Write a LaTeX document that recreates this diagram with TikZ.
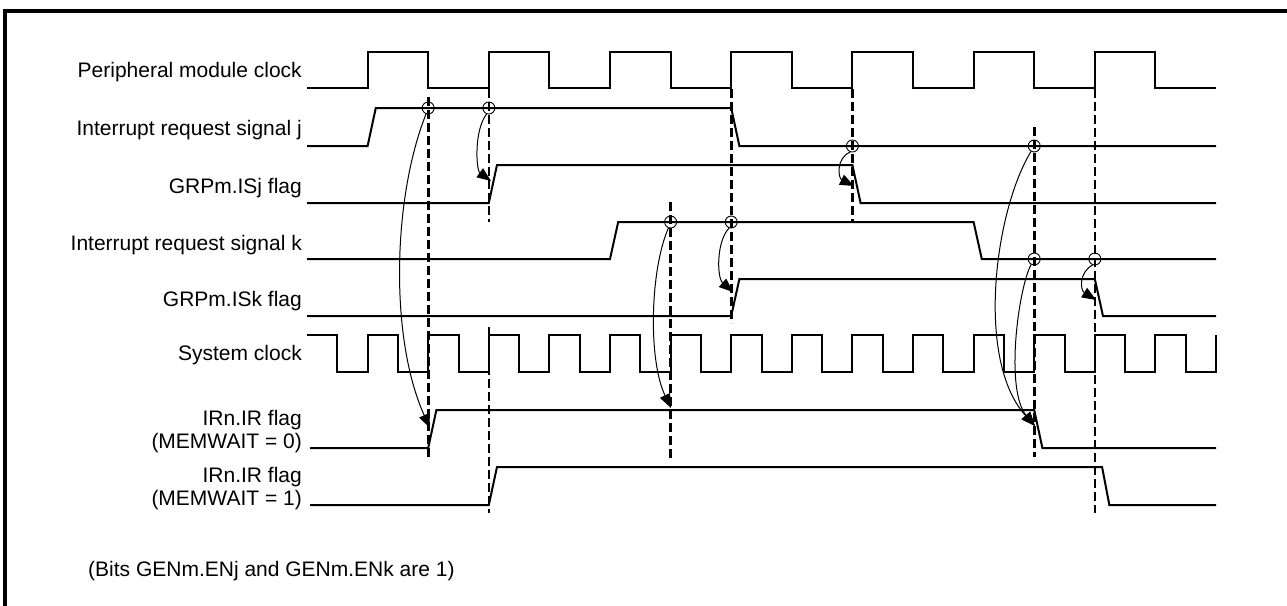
\documentclass[tikz,border=0pt]{standalone}
\usepackage{fontspec}
\setmainfont{Liberation Sans}
\usetikzlibrary{arrows.meta}
\tikzset{
  wave/.style={line width=2pt, line join=miter},
  vdash/.style={line width=2.6pt, dash pattern=on 9pt off 4pt},
  mark circ/.style={circle, draw, line width=0.9pt, minimum size=12pt, inner sep=0pt},
  cause/.style={line width=1pt, -{Triangle[length=14pt,width=11pt]}},
  lab/.style={anchor=base east, inner sep=0pt, font=\fontsize{21}{25}\selectfont},
  note/.style={anchor=base west, inner sep=0pt, font=\fontsize{21}{25}\selectfont},
  tip/.style={coordinate}
}
\begin{document}
\begin{tikzpicture}[x=1pt,y=-1pt]
\useasboundingbox (0,0) rectangle (1287,605);
% frame (right and bottom edges lie outside the picture)
\draw[line width=3.5pt] (5,640) -- (5,11) -- (1320,11);

% labels
\node[lab] (l1) at (302,77) {Peripheral module clock};
\node[lab] (l2) at (302,135) {Interrupt request signal j};
\node[lab] (l3) at (302,193) {GRPm.ISj flag};
\node[lab] (l4) at (302,250) {Interrupt request signal k};
\node[lab] (l5) at (302,306) {GRPm.ISk flag};
\node[lab] (l6) at (302,360) {System clock};
\node[lab] (l7a) at (302,425) {IRn.IR flag};
\node[lab] (l7b) at (302,448) {(MEMWAIT = 0)};
\node[lab] (l8a) at (302,482) {IRn.IR flag};
\node[lab] (l8b) at (302,505) {(MEMWAIT = 1)};
\node[note] (fn) at (88,576) {(Bits GENm.ENj and GENm.ENk are 1)};

\begin{scope}[xshift=307pt, x=30.3pt]
  % peripheral module clock
  \draw[wave] (0,88) foreach \i in {2,6,...,26} { -- (\i,88) -- (\i,52) -- (\i+2,52) -- (\i+2,88) } -- (30,88);
  % interrupt request j
  \draw[wave] (0,146) -- (2,146) -- (2.27,108) -- (14,108) -- (14.27,146) -- (30,146);
  % GRPm.ISj
  \draw[wave] (0,203) -- (6,203) -- (6.27,165) -- (18,165) -- (18.27,203) -- (30,203);
  % interrupt request k
  \draw[wave] (0,259) -- (10,259) -- (10.27,222) -- (22,222) -- (22.27,259) -- (30,259);
  % GRPm.ISk
  \draw[wave] (0,316) -- (14,316) -- (14.27,279) -- (26,279) -- (26.27,316) -- (30,316);
  % system clock
  \draw[wave] (0,335) foreach \i in {0,2,...,28} { -- (\i+1,335) -- (\i+1,372) -- (\i+2,372) -- (\i+2,335) };
  % IRn.IR MEMWAIT=0
  \draw[wave] (0.1,448) -- (4,448) -- (4.27,410) -- (24,410) -- (24.27,448) -- (30,448);
  % IRn.IR MEMWAIT=1
  \draw[wave] (0.1,505) -- (6,505) -- (6.27,467) -- (26.24,467) -- (26.48,505) -- (30,505);

  % dashed guide lines
  \draw[vdash] (4,97) -- (4,459);
  \draw[vdash] (6,89) -- (6,222);
  \draw[vdash] (6,327) -- (6,513);
  \draw[vdash] (12,202) -- (12,460);
  \draw[vdash] (14,89) -- (14,323);
  \draw[vdash] (18,89) -- (18,222);
  \draw[vdash] (24,127) -- (24,457);
  \draw[vdash] (26,89) -- (26,513);

  % sampling circles
  \node[mark circ] (cja) at (4,108) {};
  \node[mark circ] (cjb) at (6,108) {};
  \node[mark circ] (cka) at (12,222) {};
  \node[mark circ] (ckb) at (14,222) {};
  \node[mark circ] (cjc) at (18,146) {};
  \node[mark circ] (cjd) at (24,146) {};
  \node[mark circ] (ckc) at (24,259) {};
  \node[mark circ] (ckd) at (26,259) {};
\end{scope}

% arrow targets
\coordinate (ta) at (430,428);
\coordinate (tb) at (491,181);
\coordinate (tc) at (671,408);
\coordinate (td) at (733,292);
\coordinate (te) at (854,186);
\coordinate (tf) at (1035,426);
\coordinate (th) at (1096,300);

% cause arrows
\draw[cause] (cja.250) .. controls (392,200) and (390,340) .. (ta);
\draw[cause] (cjb.250) .. controls (474,130) and (476,170) .. (tb);
\draw[cause] (cka.250) .. controls (650,270) and (648,360) .. (tc);
\draw[cause] (ckb.250) .. controls (716,242) and (717,278) .. (td);
\draw[cause] (cjc.250) .. controls (836,158) and (838,178) .. (te);
\draw[cause] (cjd.240) .. controls (995,210) and (975,360) .. (tf);
\draw[cause] (ckc.240) .. controls (1018,290) and (1005,390) .. (tf);
\draw[cause] (ckd.250) .. controls (1079,272) and (1080,290) .. (th);
\end{tikzpicture}
\end{document}
